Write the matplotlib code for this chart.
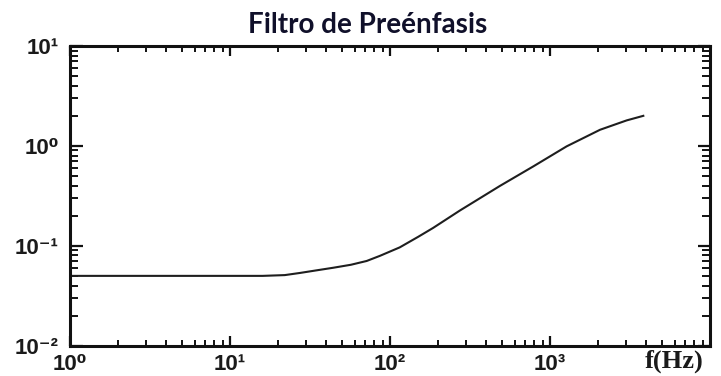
import matplotlib
matplotlib.use("Agg")
import matplotlib.pyplot as plt
from matplotlib.ticker import FixedLocator, FixedFormatter, LogLocator, NullFormatter

# Data
freq_hz = [1, 5, 10, 16, 22, 27.4, 35, 44.2, 57, 71.5, 86.6, 115, 150, 186,
           274, 316, 487, 787, 1271, 2054, 3014, 3830]
gain = [0.05, 0.05, 0.05, 0.05, 0.0509, 0.0535, 0.0569, 0.0603, 0.0646, 0.0705, 0.0794,
        0.0964, 0.123, 0.151, 0.226, 0.26, 0.398, 0.624, 0.99, 1.45, 1.8, 2.0]

x_ticks = [1, 10, 100, 1000]
x_tick_labels = ['10⁰', '10¹', '10²', '10³']
y_ticks = [0.01, 0.1, 1, 10]
y_tick_labels = ['10⁻²', '10⁻¹', '10⁰', '10¹']

title = 'Filtro de Preénfasis'
x_label = 'f(Hz)'

fig = plt.figure(figsize=(7.21, 3.76), dpi=100)
ax = fig.add_axes([70/721, 1 - 345.7/376, (710 - 70)/721, (345.7 - 46)/376])

ax.plot(freq_hz, gain, color='#1e1e1e', lw=1.5)
ax.set_xscale('log')
ax.set_yscale('log')
ax.set_xlim(1, 1e4)
ax.set_ylim(0.01, 10)

ax.xaxis.set_major_locator(FixedLocator(x_ticks))
ax.xaxis.set_major_formatter(FixedFormatter(x_tick_labels))
ax.yaxis.set_major_locator(FixedLocator(y_ticks))
ax.yaxis.set_major_formatter(FixedFormatter(y_tick_labels))
ax.xaxis.set_minor_locator(LogLocator(base=10, subs=range(2, 10), numticks=20))
ax.yaxis.set_minor_locator(LogLocator(base=10, subs=range(2, 10), numticks=20))
ax.xaxis.set_minor_formatter(NullFormatter())
ax.yaxis.set_minor_formatter(NullFormatter())

for s in ax.spines.values():
    s.set_linewidth(2.2)
    s.set_color('#111111')

ax.tick_params(which='both', direction='in', top=True, right=True, color='#111111')
ax.tick_params(axis='x', which='major', length=7, width=1.6, pad=6, labelsize=16)
ax.tick_params(axis='x', which='minor', length=4.5, width=1.4)
ax.tick_params(axis='y', which='major', length=9, width=1.6, pad=8, labelsize=16)
ax.tick_params(axis='y', which='minor', length=6, width=1.4)

for lab in ax.get_xticklabels() + ax.get_yticklabels():
    lab.set_color('#1a1a1a')
    lab.set_fontweight('bold')
    lab.set_family(['Liberation Sans', 'DejaVu Sans'])

fig.text(368/721, 1 - 25/376, title, ha='center', va='center',
         fontsize=20, fontweight='bold', family='Lato', color='#10102a')
fig.text(645/721, 1 - 361/376, x_label, ha='left', va='center',
         fontsize=19, fontweight='bold', family='Liberation Serif', color='#1a1a1a')

fig.savefig('out.png', dpi=100)
